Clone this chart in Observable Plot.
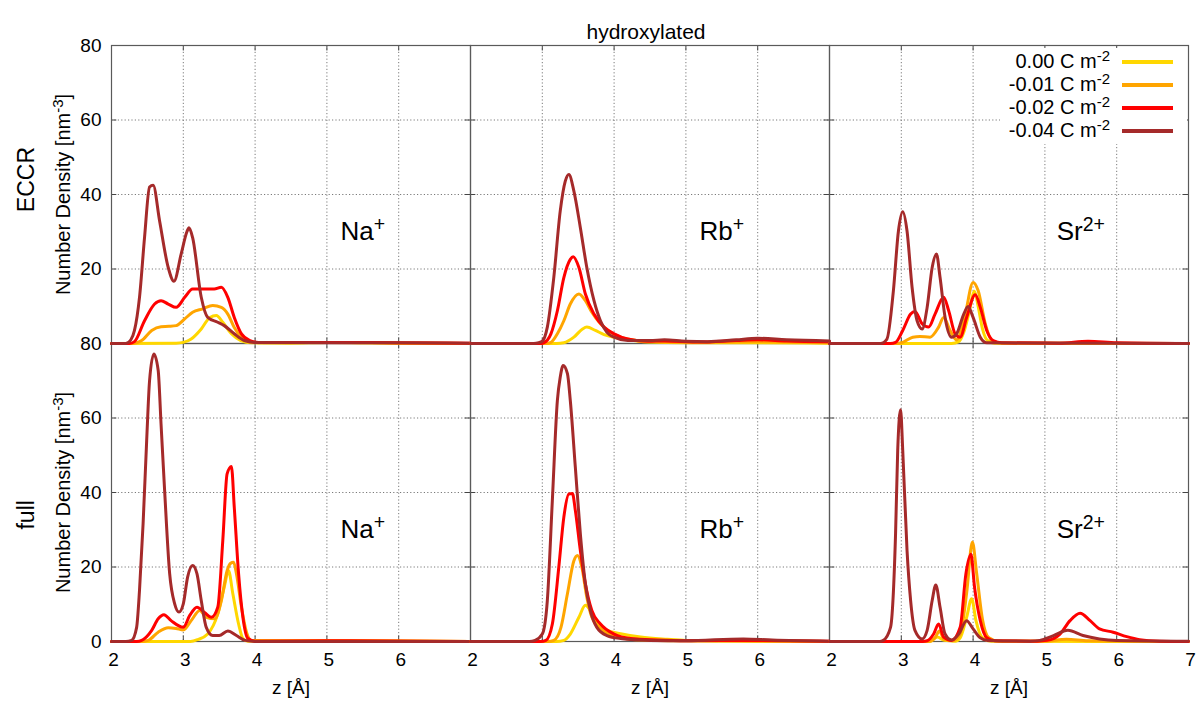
<!DOCTYPE html>
<html><head><meta charset="utf-8">
<script src="https://cdn.jsdelivr.net/npm/d3@7"></script>
<script src="https://cdn.jsdelivr.net/npm/@observablehq/plot@0.6"></script>
<style>
body{margin:0;background:#fff;font-family:"Liberation Sans",Arial,sans-serif}
#wrap{position:relative;width:1200px;height:708px;overflow:hidden}
#wrap svg{display:block}
#legend{position:absolute;left:1000px;top:48px;width:187px;background:#fff;padding-top:2px;padding-bottom:2px}
.row{display:flex;align-items:center;justify-content:flex-end;height:23px;font-size:20px;line-height:23px;color:#000}
.sw{width:51px;height:4px;margin-left:12px;margin-right:14px}
sup{font-size:0.75em;line-height:0;vertical-align:0.45em}
</style></head><body><div id="wrap"></div>
<script>
// ---- categories / labels ----
const ions = ["Na+", "Rb+", "Sr2+"];
const rowNames = ["ECCR", "full"];
const seriesLabels = ["0.00", "-0.01", "-0.02", "-0.04"];
const seriesColors = ["#ffd700", "#ffa500", "#ff0000", "#a52a2a"];
const xTicks = [2, 3, 4, 5, 6, 7];
const yTicks = [0, 20, 40, 60, 80];
const titleText = "hydroxylated";

// ---- ECCR, Na+ ----  [z (Å), density (nm^-3)]
const eccrNa_000 = [[2,0],[2.9,0.1],[3.0,0.3],[3.11,1.2],[3.25,3.9],[3.37,7.0],[3.46,7.5],[3.55,5.7],[3.67,2.6],[3.8,0.8],[3.95,0.2],[4.5,0.1],[5,0.3],[5.5,0.2],[6,0.1],[7,0]];
const eccrNa_001 = [[2,0],[2.3,0],[2.42,0.8],[2.56,3.5],[2.69,4.5],[2.8,4.6],[2.9,4.8],[3.02,6.6],[3.13,8.4],[3.27,9.3],[3.41,10.2],[3.53,9.7],[3.62,7.9],[3.71,4.3],[3.81,1.7],[3.93,0.5],[4.1,0.2],[5,0.3],[6,0.1],[7,0]];
const eccrNa_002 = [[2,0],[2.25,0],[2.32,0.5],[2.46,6.1],[2.6,10.6],[2.69,11.5],[2.79,10.6],[2.9,9.7],[3.02,12.4],[3.13,14.6],[3.3,14.6],[3.43,14.6],[3.53,15.1],[3.62,12.4],[3.71,7.0],[3.81,2.6],[3.93,0.8],[4.05,0.3],[5,0.3],[6,0.2],[7,0.1]];
const eccrNa_004 = [[2,0],[2.2,0],[2.27,1.0],[2.32,3.5],[2.39,12.4],[2.46,28.4],[2.53,42.0],[2.58,42.5],[2.67,32.9],[2.79,20.4],[2.87,16.7],[2.97,24],[3.05,30],[3.08,31.1],[3.13,28.4],[3.25,12.4],[3.34,7],[3.48,5.7],[3.57,4.8],[3.71,2.6],[3.85,0.8],[4.0,0.3],[5,0.2],[6,0.2],[7,0.1]];

// ---- ECCR, Rb+ ----
const eccrRb_000 = [[2,0],[3.2,0],[3.3,0.2],[3.44,1.7],[3.56,3.9],[3.62,4.4],[3.74,3.5],[3.86,2.4],[4.0,1.7],[4.19,1.0],[4.47,0.4],[5,0.2],[6,0.2],[7,0.1]];
const eccrRb_001 = [[2,0],[3.05,0],[3.12,0.3],[3.21,2.6],[3.3,6.1],[3.39,10.6],[3.51,13.3],[3.6,11.5],[3.69,8.4],[3.81,5.3],[3.95,3.0],[4.09,1.7],[4.33,0.8],[4.7,0.4],[5,0.3],[6,0.5],[7,0.2]];
const eccrRb_002 = [[2,0],[2.97,0],[3.02,0.2],[3.12,2.6],[3.21,8.8],[3.3,17.7],[3.39,22.6],[3.43,23.3],[3.51,20.4],[3.6,13.3],[3.72,7.9],[3.86,4.4],[4.0,2.6],[4.19,1.2],[4.47,0.6],[4.7,0.7],[5.2,0.4],[5.7,0.8],[6,1.0],[6.4,0.7],[7,0.5]];
const eccrRb_004 = [[2,0],[2.88,0],[2.95,0.2],[3.0,0.6],[3.07,4.4],[3.16,17.7],[3.25,35.6],[3.32,43.6],[3.37,45.4],[3.44,40.9],[3.53,31.1],[3.62,20.4],[3.72,11.5],[3.81,6.1],[3.9,3.0],[4.0,1.7],[4.19,0.8],[4.5,0.8],[4.7,1.0],[5.0,0.6],[5.3,0.5],[5.7,1.0],[6.0,1.4],[6.4,1.0],[7,0.7]];

// ---- ECCR, Sr2+ ----
const eccrSr_000 = [[2,0],[3.7,0],[3.8,0.5],[3.87,3],[3.94,8],[4.02,14],[4.07,10],[4.13,4],[4.2,0.8],[4.3,0.1],[7,0]];
const eccrSr_001 = [[2,0],[2.92,0],[3.02,0.3],[3.16,1.7],[3.26,1.9],[3.4,1.7],[3.52,4.4],[3.59,7.0],[3.68,3.5],[3.77,1.0],[3.89,7.9],[4.0,16.4],[4.07,14.2],[4.17,5.3],[4.26,0.8],[4.4,0.1],[7,0]];
const eccrSr_002 = [[2,0],[2.85,0],[2.92,0.3],[3.02,3.5],[3.13,7.9],[3.19,8.6],[3.29,5.3],[3.38,4.4],[3.47,7.9],[3.59,12.4],[3.66,8.8],[3.75,2.6],[3.82,1.7],[3.91,7],[4.03,13.1],[4.1,9.7],[4.19,3.5],[4.28,0.8],[4.4,0.2],[5.2,0.1],[5.6,0.6],[6.0,0.2],[7,0]];
const eccrSr_004 = [[2,0],[2.71,0],[2.8,1.2],[2.89,14.2],[2.96,30.2],[3.02,35.4],[3.08,30.2],[3.15,15.1],[3.22,6.1],[3.29,3.9],[3.36,9.7],[3.43,20.4],[3.49,24],[3.54,17.7],[3.61,7],[3.7,1.7],[3.77,2.6],[3.87,7.9],[3.93,9.9],[4.0,7],[4.1,1.7],[4.19,0.2],[7,0]];

// ---- full, Na+ ----
const fullNa_000 = [[2,0],[3.1,0],[3.2,0.5],[3.34,2],[3.48,7.4],[3.57,14.6],[3.63,19],[3.69,12.8],[3.77,4.7],[3.83,0.8],[3.9,0.1],[5,0.2],[7,0]];
const fullNa_001 = [[2,0],[2.4,0],[2.51,0.3],[2.65,2.5],[2.79,3.7],[2.9,3.5],[3.0,3.1],[3.11,5.6],[3.23,8.3],[3.32,6.5],[3.44,6.1],[3.53,11],[3.61,19],[3.66,21],[3.7,21.3],[3.74,18.2],[3.81,9.2],[3.88,2.5],[3.95,0.3],[5,0.2],[7,0]];
const fullNa_002 = [[2,0],[2.35,0],[2.42,0.3],[2.56,3],[2.65,6.1],[2.73,7.2],[2.83,5.6],[3.0,3.8],[3.09,7],[3.19,9.2],[3.3,7.7],[3.39,6.5],[3.48,9.2],[3.55,27.1],[3.61,45],[3.67,47],[3.71,36],[3.77,18.2],[3.83,6.5],[3.9,0.8],[4.0,0.1],[5,0.2],[7,0]];
const fullNa_004 = [[2,0],[2.2,0],[2.28,0.3],[2.35,3.8],[2.39,13.7],[2.44,31.6],[2.49,54],[2.53,70],[2.59,77.2],[2.65,72.8],[2.69,58.4],[2.74,40.5],[2.81,18.2],[2.88,10.1],[2.94,7.9],[3.0,10.1],[3.06,17.3],[3.13,20.4],[3.19,18.2],[3.25,11],[3.32,3.8],[3.41,1.6],[3.5,1.6],[3.62,2.8],[3.74,1.6],[3.86,0.3],[4.0,0],[7,0]];

// ---- full, Rb+ ----
const fullRb_000 = [[2,0],[3.2,0],[3.3,0.3],[3.39,2],[3.51,6.5],[3.6,9.7],[3.67,8.3],[3.76,4.7],[3.9,3],[4.09,2.1],[4.37,1.2],[4.74,0.6],[5,0.3],[6,0.1],[7,0]];
const fullRb_001 = [[2,0],[3.08,0],[3.16,0.3],[3.26,3.8],[3.35,12.8],[3.44,21.7],[3.49,23.1],[3.55,20],[3.62,11.9],[3.69,6.5],[3.81,3.4],[4.0,1.6],[4.3,0.5],[5,0.2],[7,0]];
const fullRb_002 = [[2,0],[2.98,0],[3.05,0.3],[3.14,4.7],[3.23,20],[3.3,33.4],[3.37,39.6],[3.42,39.7],[3.46,35.2],[3.53,24.4],[3.6,15.5],[3.69,8.3],[3.81,4.7],[4.0,2],[4.23,0.8],[4.6,0.4],[5,0.2],[6,0.3],[7,0.1]];
const fullRb_004 = [[2,0],[2.82,0],[2.9,0.3],[3.0,2],[3.07,11],[3.14,37.9],[3.21,64.7],[3.25,71],[3.29,74.1],[3.35,71.9],[3.39,64.7],[3.46,46.8],[3.53,28.9],[3.6,15.5],[3.67,8.3],[3.76,3.8],[3.9,1.6],[4.09,0.8],[4.5,0.3],[5,0.2],[5.8,0.7],[6.2,0.4],[7,0.1]];

// ---- full, Sr2+ ----
const fullSr_000 = [[2,0],[3.4,0],[3.5,1.2],[3.6,0.3],[3.75,0.1],[3.82,1],[3.91,6.5],[3.98,11.5],[4.04,5.6],[4.13,1],[4.25,0.1],[7,0]];
const fullSr_001 = [[2,0],[3.38,0],[3.47,1],[3.53,2.8],[3.6,0.5],[3.72,0.2],[3.82,2],[3.91,13],[3.99,26.7],[4.05,18.2],[4.13,6],[4.22,1],[4.35,0.1],[5.0,0.1],[5.3,0.6],[5.6,0.2],[7,0]];
const fullSr_002 = [[2,0],[3.3,0],[3.36,0.2],[3.45,2],[3.52,4.7],[3.59,1.2],[3.7,0.3],[3.82,3.8],[3.9,18.2],[3.97,23.4],[4.02,14.6],[4.1,5.6],[4.19,1],[4.3,0.2],[4.9,0.1],[5.03,0.3],[5.21,2],[5.35,5.6],[5.49,7.6],[5.63,5.6],[5.76,3.4],[5.95,2.5],[6.14,1.3],[6.32,0.5],[6.6,0.1],[7,0]];
const fullSr_004 = [[2,0],[2.7,0],[2.75,0.3],[2.85,3.8],[2.92,28.9],[2.95,51.3],[2.99,62.2],[3.02,51.3],[3.08,24.4],[3.13,11],[3.19,3],[3.29,0.7],[3.36,3],[3.43,11],[3.48,15.2],[3.54,9.2],[3.61,2],[3.7,0.4],[3.8,2],[3.91,5.6],[4.0,3.4],[4.1,1],[4.2,0.3],[4.8,0.1],[4.93,0.3],[5.12,1.6],[5.32,3],[5.53,1.6],[5.76,0.7],[6,0.3],[7,0.1]];

// ---- assemble tidy table ----
const panels = [
  ["ECCR", "Na+",  [eccrNa_000, eccrNa_001, eccrNa_002, eccrNa_004]],
  ["ECCR", "Rb+",  [eccrRb_000, eccrRb_001, eccrRb_002, eccrRb_004]],
  ["ECCR", "Sr2+", [eccrSr_000, eccrSr_001, eccrSr_002, eccrSr_004]],
  ["full", "Na+",  [fullNa_000, fullNa_001, fullNa_002, fullNa_004]],
  ["full", "Rb+",  [fullRb_000, fullRb_001, fullRb_002, fullRb_004]],
  ["full", "Sr2+", [fullSr_000, fullSr_001, fullSr_002, fullSr_004]]
];
const data = panels.flatMap(([row, ion, arrs]) =>
  arrs.flatMap((arr, i) => arr.map(([z, v]) => ({row, ion, series: seriesLabels[i], z, v}))));

const annot = panels.map(([row, ion]) => ({row, ion}));
const supFmt = (s) => s.replace(/^([A-Za-z]+)(\d*[+-])$/, "$1^{$2}");

// y tick labels: top row hides 0 (shared border shows the lower panel's 80)
const yTickRows = rowNames.flatMap(r => yTicks.filter(t => !(r === "ECCR" && t === 0)).map(t => ({row: r, t})));
// x tick labels: only the last column shows 7
const xTickRows = ions.flatMap((ion, i) => xTicks.filter(t => !(t === 7 && i < ions.length - 1)).map(t => ({ion, t})));

const W = 1200, H = 708, mL = 110, mR = 11, mT = 44, mB = 67;
const pw = (W - mL - mR) / ions.length, ph = (H - mT - mB) / rowNames.length;
const gridStyle = {stroke: "#7a7a7a", strokeWidth: 1, strokeDasharray: "1.2,2.2"};

const chart = Plot.plot({
  width: W, height: H,
  marginLeft: mL, marginRight: mR, marginTop: mT, marginBottom: mB,
  style: {fontFamily: "'Liberation Sans', Arial, sans-serif", fontSize: "19px", background: "#fff", color: "#000", overflow: "visible"},
  x: {domain: [2, 7], axis: null},
  y: {domain: [0, 80], axis: null},
  fx: {domain: ions, axis: null, padding: 0},
  fy: {domain: rowNames, axis: null, padding: 0},
  color: {domain: seriesLabels, range: seriesColors},
  marks: [
    Plot.ruleY(yTicks.filter(t => t > 0 && t < 80), gridStyle),
    Plot.ruleX(xTicks.filter(t => t > 2 && t < 7), gridStyle),
    Plot.tickY(yTicks, {stroke: "#444", insetRight: pw - 6}),
    Plot.tickY(yTicks, {stroke: "#444", insetLeft: pw - 6}),
    Plot.tickX(xTicks, {stroke: "#444", insetTop: ph - 6}),
    Plot.tickX(xTicks, {stroke: "#444", insetBottom: ph - 6}),
    Plot.frame({stroke: "#5a5a5a", strokeWidth: 1.2}),
    Plot.line(data, {x: "z", y: "v", z: "series", stroke: "series", strokeWidth: 3, curve: "monotone-x", fx: "ion", fy: "row"}),
    Plot.text(annot, {fx: "ion", fy: "row", x: () => 5.5, y: () => 30, text: d => supFmt(d.ion), fontSize: 26}),
    // y tick labels
    Plot.text(yTickRows, {fx: () => ions[0], fy: "row", y: "t", text: d => String(d.t), frameAnchor: "left", textAnchor: "end", dx: -10, fontSize: 19}),
    // x tick labels
    Plot.text(xTickRows, {fx: "ion", fy: () => rowNames[1], x: "t", text: d => String(d.t), frameAnchor: "bottom", dy: 24, dx: 2, fontSize: 19}),
    // x axis titles
    Plot.text(ions, {fx: d => d, fy: () => rowNames[1], frameAnchor: "bottom", dy: 52, text: () => "z [Å]", fontSize: 19}),
    // y axis titles
    Plot.text(rowNames, {fx: () => ions[0], fy: d => d, frameAnchor: "left", textAnchor: "middle", rotate: -90, dx: -48, text: () => "Number Density [nm^{-3}]", fontSize: 20}),
    // row labels
    Plot.text(rowNames, {fx: () => ions[0], fy: d => d, frameAnchor: "left", textAnchor: "middle", y: d => d === "ECCR" ? 44 : 34, rotate: -90, dx: -85, text: d => d, fontSize: 23}),
    // title
    Plot.text([titleText], {fx: () => ions[1], fy: () => rowNames[0], frameAnchor: "top", textAnchor: "middle", dy: -21, dx: -4, text: d => d, fontSize: 21})
  ]
});

// convert ^{...} markup into superscript tspans
chart.querySelectorAll("text").forEach(t => {
  const s = t.textContent;
  if (!s.includes("^{")) return;
  t.textContent = "";
  const re = /\^\{([^}]*)\}/g;
  let last = 0, m, shifted = false;
  const ns = "http://www.w3.org/2000/svg";
  while ((m = re.exec(s))) {
    if (m.index > last) {
      const a = document.createElementNS(ns, "tspan");
      a.textContent = s.slice(last, m.index);
      if (shifted) { a.setAttribute("dy", "0.36em"); shifted = false; }
      t.appendChild(a);
    }
    const sp = document.createElementNS(ns, "tspan");
    sp.textContent = m[1];
    sp.setAttribute("font-size", "0.75em");
    sp.setAttribute("dy", "-0.48em");
    t.appendChild(sp);
    shifted = true;
    last = re.lastIndex;
  }
  if (last < s.length) {
    const a = document.createElementNS(ns, "tspan");
    a.textContent = s.slice(last);
    if (shifted) a.setAttribute("dy", "0.36em");
    t.appendChild(a);
  }
});

const wrap = document.getElementById("wrap");
wrap.appendChild(chart);

// legend (key box inside the top-right panel)
const legend = document.createElement("div");
legend.id = "legend";
seriesLabels.forEach((lab, i) => {
  const row = document.createElement("div");
  row.className = "row";
  const txt = document.createElement("span");
  txt.innerHTML = `${lab} C m<sup>-2</sup>`;
  const sw = document.createElement("span");
  sw.className = "sw";
  sw.style.background = seriesColors[i];
  row.appendChild(txt); row.appendChild(sw);
  legend.appendChild(row);
});
wrap.appendChild(legend);
</script>
</body></html>
